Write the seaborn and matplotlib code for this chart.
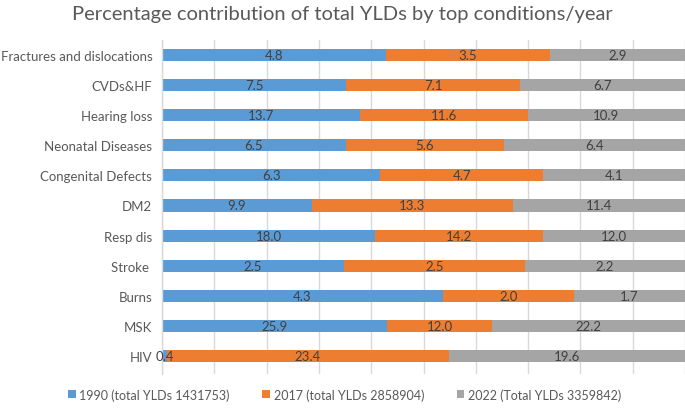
import numpy as np
import pandas as pd
import matplotlib
matplotlib.use("Agg")
import matplotlib.pyplot as plt
import seaborn as sns
from matplotlib.patches import Patch

conditions = ["Fractures and dislocations", "CVDs&HF", "Hearing loss", "Neonatal Diseases",
              "Congenital Defects", "DM2", "Resp dis", "Stroke ", "Burns", "MSK", "HIV"]
v1990 = [4.8, 7.5, 13.7, 6.5, 6.3, 9.9, 18.0, 2.5, 4.3, 25.9, 0.4]
v2017 = [3.5, 7.1, 11.6, 5.6, 4.7, 13.3, 14.2, 2.5, 2.0, 12.0, 23.4]
v2022 = [2.9, 6.7, 10.9, 6.4, 4.1, 11.4, 12.0, 2.2, 1.7, 22.2, 19.6]
series_names = ["1990 (total YLDs 1431753)", "2017 (total YLDs 2858904)", "2022 (Total YLDs 3359842)"]
colors = ["#5B9BD5", "#ED7D31", "#A5A5A5"]

sns.set_theme(style="white")
plt.rcParams['font.family'] = ['Lato', 'DejaVu Sans']

a = np.array(v1990); b = np.array(v2017); c = np.array(v2022)
tot = a + b + c
p1 = a / tot * 100
p2 = b / tot * 100
p3 = c / tot * 100
df = pd.DataFrame({"cond": conditions, "c1": p1, "c2": p1 + p2, "c3": p1 + p2 + p3})

fig = plt.figure(figsize=(6.85, 4.1), dpi=100)
ax = fig.add_axes([0.2365, 0.0854, 0.7635, 0.8146])

for col, colr in zip(["c3", "c2", "c1"], colors[::-1]):
    sns.barplot(data=df, x=col, y="cond", orient="h", color=colr, width=0.4,
                linewidth=0, saturation=1, ax=ax)

ax.set_xlim(0, 100)
ax.set_ylim(10.6, -0.5)
ax.set_xticks(np.arange(0, 101, 10))
ax.xaxis.grid(True, color="#D9D9D9", linewidth=1)
ax.set_axisbelow(True)
ax.tick_params(axis="x", length=0, labelbottom=False)
ax.tick_params(axis="y", length=0, labelsize=9.5, labelcolor="#595959", pad=7)
ax.set_xlabel("")
ax.set_ylabel("")
for s in ["top", "right", "bottom"]:
    ax.spines[s].set_visible(False)
ax.spines["left"].set_color("#D9D9D9")
ax.spines["left"].set_linewidth(1)

txt = dict(ha="center", va="center", fontsize=9.5, color="#404040")
for i in range(len(conditions)):
    ax.text(p1[i] / 2, i, f"{a[i]:.1f}", **txt)
    ax.text(p1[i] + p2[i] / 2, i, f"{b[i]:.1f}", **txt)
    ax.text(p1[i] + p2[i] + p3[i] / 2, i, f"{c[i]:.1f}", **txt)

fig.suptitle("Percentage contribution of total YLDs by top conditions/year",
             x=0.5, y=0.985, fontsize=14.5, color="#595959")

handles = [Patch(facecolor=col, edgecolor="none") for col in colors]
fig.legend(handles, series_names, loc="center", bbox_to_anchor=(0.503, 0.036), ncol=3,
           frameon=False, fontsize=9, handlelength=0.6, handleheight=0.6,
           handletextpad=0.3, columnspacing=2.6, labelcolor="#595959")

fig.savefig("out.png", dpi=100)
